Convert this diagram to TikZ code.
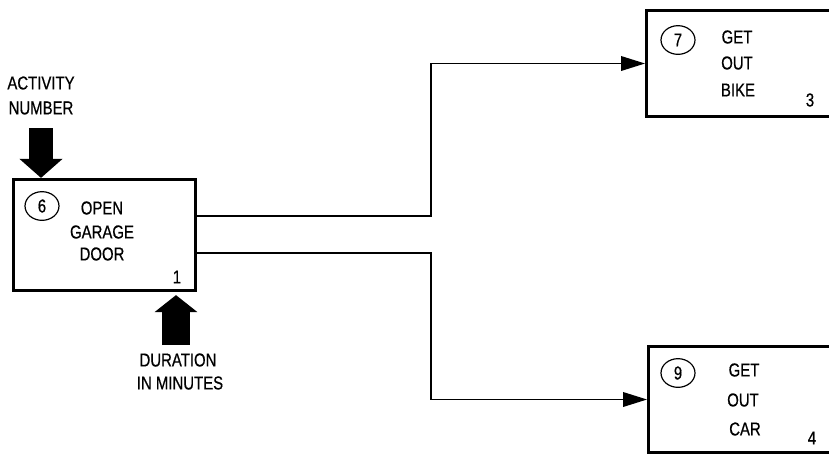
\documentclass[tikz,border=0pt]{standalone}
\usepackage{fontspec}
\setmainfont{Liberation Sans}[FakeStretch=0.8,FakeBold=0.6]
\usetikzlibrary{arrows.meta,calc,shapes.geometric}
\begin{document}
\begin{tikzpicture}[x=0.75pt,y=-0.75pt,
  box/.style={draw=black,line width=2.4pt,rectangle,inner sep=0pt},
  numcirc/.style={draw=black,line width=0.9pt,ellipse,minimum width=25.5pt,minimum height=21.5pt,inner sep=0pt,font=\fontsize{14}{16}\selectfont},
  lbl/.style={inner sep=0pt,font=\fontsize{14}{16}\selectfont},
  conn/.style={line width=1.1pt,-{Triangle[length=18pt,width=11pt]}},
  blockA/.style={line width=18pt,-{Triangle[length=14.25pt,width=31.5pt]}},
  blockB/.style={line width=21pt,-{Triangle[length=12.75pt,width=31.5pt]}}]
\clip (0,0) rectangle (829,455);
\fill[white] (0,0) rectangle (829,455);
% boxes
\node[box,minimum width=136.5pt,minimum height=83.25pt] (box1) at (104.5,235) {};
\node[box,minimum width=145pt,minimum height=79.35pt] (box7) at (743.3,63.5) {};
\node[box,minimum width=143.5pt,minimum height=79.35pt] (box9) at (744.3,399.5) {};
% activity numbers
\node[numcirc] (c6) at (42,206) {6};
\node[numcirc] (c7) at (678,40) {7};
\node[numcirc] (c9) at (678,373) {9};
% box texts
\node[lbl] (t1a) at (102,208) {OPEN};
\node[lbl] (t1b) at (102,232) {GARAGE};
\node[lbl] (t1c) at (102,254) {DOOR};
\node[lbl] (t7a) at (737,37) {GET};
\node[lbl] (t7b) at (737,63) {OUT};
\node[lbl] (t7c) at (738,90) {BIKE};
\node[lbl] (t9a) at (744,370) {GET};
\node[lbl] (t9b) at (743,400) {OUT};
\node[lbl] (t9c) at (745,429) {CAR};
% durations
\node[lbl] (n1) at (177,277) {1};
\node[lbl] (n3) at (810,100) {3};
\node[lbl] (n4) at (812,438) {4};
% legend labels
\node[lbl] (act1) at (41,83) {ACTIVITY};
\node[lbl] (act2) at (41,108) {NUMBER};
\node[lbl] (dur1) at (178,360) {DURATION};
\node[lbl] (dur2) at (180,383) {IN MINUTES};
% block arrows
\coordinate (actS) at (41,128);
\draw[blockA] (actS) -- (actS |- box1.north);
\coordinate (durS) at (176,345);
\draw[blockB] (durS) -- ($(durS |- box1.south)+(0,3)$);
% connectors
\coordinate (jx) at (431,0);
\coordinate (s1) at ($(box1.east)+(0,-19)$);
\coordinate (s2) at ($(box1.east)+(0,18)$);
\draw[conn] (s1) -| (jx |- box7.west) -- (box7.west);
\draw[conn] (s2) -| (jx |- box9.west) -- (box9.west);
\end{tikzpicture}
\end{document}
